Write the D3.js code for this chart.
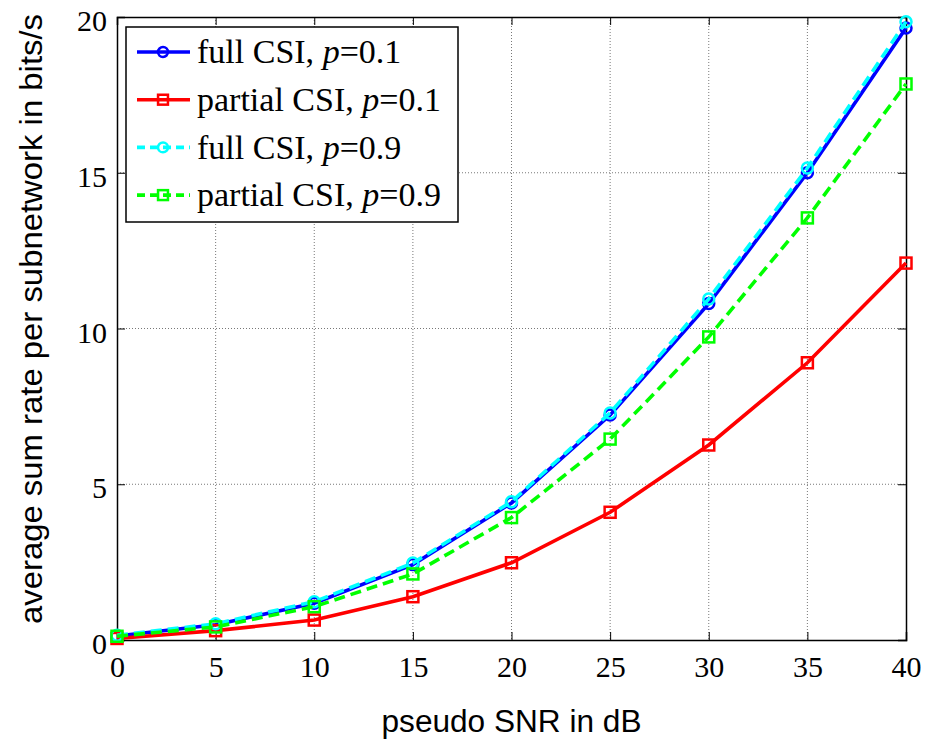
<!DOCTYPE html>
<html lang="en">
<head>
<meta charset="utf-8">
<title>sum rate vs pseudo SNR</title>
<script src="https://d3js.org/d3.v7.min.js"></script>
<style>
    body { margin: 0; background: #fff; }
    .tick text { font-family: "Liberation Serif", "Times New Roman", serif; font-size: 30px; fill: #000; }
    .grid line { stroke: #555; stroke-dasharray: 1,2; stroke-width: 0.8; }
    .axislabel { font-family: "Liberation Sans", Arial, sans-serif; font-size: 31px; }
    .legend text { font-family: "Liberation Serif", "Times New Roman", serif; font-size: 34px; }
</style>
</head>
<body>
<svg id="chart"></svg>
<script>
    // values
    let snr = [0, 5, 10, 15, 20, 25, 30, 35, 40];
    let fullLow = [0.13, 0.49, 1.18, 2.42, 4.4, 7.22, 10.8, 15.0, 19.65];
    let partialLow = [0.05, 0.3, 0.64, 1.39, 2.48, 4.1, 6.26, 8.9, 12.1];
    let fullHigh = [0.15, 0.52, 1.23, 2.47, 4.44, 7.29, 10.95, 15.15, 19.85];
    let partialHigh = [0.12, 0.42, 1.07, 2.12, 3.93, 6.45, 9.73, 13.55, 17.85];
    let xTicks = [0, 5, 10, 15, 20, 25, 30, 35, 40];
    let yTicks = [0, 5, 10, 15, 20];

    let series = [
        {name: "full CSI, ", p: "0.1", values: fullLow, color: "#0000ff", dash: null, marker: "circle"},
        {name: "partial CSI, ", p: "0.1", values: partialLow, color: "#ff0000", dash: null, marker: "square"},
        {name: "full CSI, ", p: "0.9", values: fullHigh, color: "#00ffff", dash: "11,6", marker: "circle"},
        {name: "partial CSI, ", p: "0.9", values: partialHigh, color: "#00ff00", dash: "11,6", marker: "square"}
    ];

    let margin = {top: 17, right: 22, bottom: 99, left: 117},
        width = 928,
        height = 739,
        chartWidth = width - margin.left - margin.right,
        chartHeight = height - margin.top - margin.bottom;

    let svg = d3.select("#chart")
        .attr("width", width)
        .attr("height", height);

    let chartArea = svg.append("g")
        .attr("transform", `translate(${margin.left},${margin.top})`);

    let x = d3.scaleLinear().domain([0, 40]).range([0, chartWidth]);
    let y = d3.scaleLinear().domain([0, 20]).range([chartHeight, 0]);

    // grid
    chartArea.append("g").attr("class", "grid")
        .selectAll("line").data(xTicks.slice(1, -1)).join("line")
        .attr("x1", d => x(d)).attr("x2", d => x(d))
        .attr("y1", 0).attr("y2", chartHeight);
    chartArea.append("g").attr("class", "grid")
        .selectAll("line").data(yTicks.slice(1, -1)).join("line")
        .attr("y1", d => y(d)).attr("y2", d => y(d))
        .attr("x1", 0).attr("x2", chartWidth);

    // axes, ticks inside like matlab
    let xAxis = chartArea.append("g")
        .attr("transform", `translate(0,${chartHeight})`)
        .call(d3.axisBottom(x).tickValues(xTicks).tickSize(-8).tickPadding(16));
    let xAxisTop = chartArea.append("g")
        .call(d3.axisTop(x).tickValues(xTicks).tickSize(-8).tickFormat(""));
    let yAxis = chartArea.append("g")
        .call(d3.axisLeft(y).tickValues(yTicks).tickSize(-8).tickPadding(10));
    let yAxisRight = chartArea.append("g")
        .attr("transform", `translate(${chartWidth},0)`)
        .call(d3.axisRight(y).tickValues(yTicks).tickSize(-8).tickFormat(""));
    [xAxis, xAxisTop, yAxis, yAxisRight].forEach(a => {
        a.select(".domain").attr("stroke", "#000").attr("stroke-width", 1.5);
        a.selectAll(".tick line").attr("stroke", "#000");
    });
    yAxis.selectAll(".tick text").attr("dy", "0.45em");

    // lines
    let line = d3.line()
        .x((d, i) => x(snr[i]))
        .y(d => y(d));

    series.forEach(s => {
        let g = chartArea.append("g");
        g.append("path")
            .datum(s.values)
            .attr("fill", "none")
            .attr("stroke", s.color)
            .attr("stroke-width", 3.6)
            .attr("stroke-dasharray", s.dash)
            .attr("d", line);
        drawMarkers(g, s, s.values.map((v, i) => [x(snr[i]), y(v)]), 1);
    });

    function drawMarkers(g, s, pts, k) {
        if (s.marker === "circle") {
            g.selectAll("circle").data(pts).join("circle")
                .attr("cx", d => d[0]).attr("cy", d => d[1]).attr("r", 5.5 * k)
                .attr("fill", "none").attr("stroke", s.color).attr("stroke-width", 2.5);
        } else {
            g.selectAll("rect").data(pts).join("rect")
                .attr("x", d => d[0] - 5.5 * k).attr("y", d => d[1] - 5.5 * k)
                .attr("width", 11 * k).attr("height", 11 * k)
                .attr("fill", "none").attr("stroke", s.color).attr("stroke-width", 2.5);
        }
    }

    // legend
    let legend = svg.append("g").attr("class", "legend")
        .attr("transform", "translate(126,27)");
    legend.append("rect")
        .attr("width", 332).attr("height", 195)
        .attr("fill", "#fff").attr("stroke", "#000").attr("stroke-width", 1.5);
    series.forEach((s, i) => {
        let row = legend.append("g").attr("transform", `translate(0,${25 + i * 47.7})`);
        row.append("line")
            .attr("x1", 11).attr("x2", 64)
            .attr("stroke", s.color).attr("stroke-width", 3.6)
            .attr("stroke-dasharray", s.dash ? "8,5" : null);
        drawMarkers(row, s, [[37, 0]], 0.9);
        let t = row.append("text").attr("x", 71).attr("dy", "0.33em");
        t.append("tspan").text(s.name);
        t.append("tspan").attr("font-style", "italic").text("p");
        t.append("tspan").text("=" + s.p);
    });

    // axis labels
    svg.append("text").attr("class", "axislabel")
        .attr("x", margin.left + chartWidth / 2).attr("y", 732)
        .attr("text-anchor", "middle")
        .attr("textLength", 260).attr("lengthAdjust", "spacingAndGlyphs")
        .text("pseudo SNR in dB");
    svg.append("text").attr("class", "axislabel")
        .attr("transform", "translate(42,319) rotate(-90)")
        .attr("text-anchor", "middle")
        .attr("textLength", 610).attr("lengthAdjust", "spacingAndGlyphs")
        .text("average sum rate per subnetwork in bits/s");
</script>
</body>
</html>
